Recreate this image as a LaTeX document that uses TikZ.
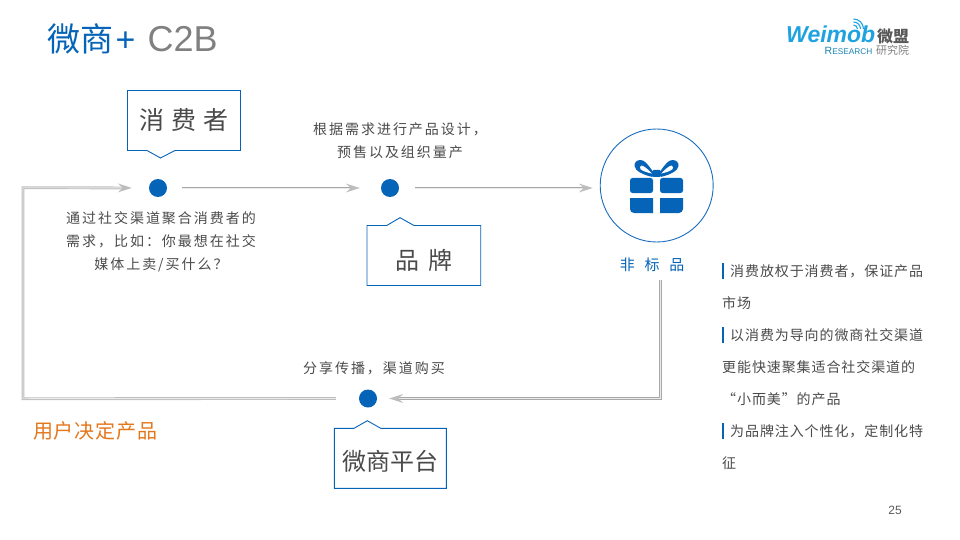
\documentclass[tikz,border=0pt]{standalone}
\usepackage{fontspec}
\usetikzlibrary{arrows.meta}
\setmainfont{Liberation Sans}
\newfontfamily\cjk{Noto Sans CJK SC}
\newcommand{\cjkls}[2]{\fontsize{#1}{#1}\selectfont\cjk\addfontfeature{LetterSpace=#2}}
\definecolor{wmblue}{HTML}{0563B8}
\definecolor{wmline}{HTML}{1A6DBE}
\definecolor{wmtext}{HTML}{4A4A4A}
\definecolor{wmgray}{HTML}{A8A8A8}
\definecolor{wmlight}{HTML}{BDBDBD}
\definecolor{wmorange}{HTML}{E4761B}
\definecolor{wmsky}{HTML}{1FA3E0}
\tikzset{
  dotnode/.style={circle,fill=wmblue,minimum size=18pt,inner sep=0pt},
  flow/.style n args={2}{draw=#1,line width=2.8pt,line join=miter,
    -{Stealth[length=14pt,width=9pt,inset=5pt,color=wmlight,fill=wmlight,line width=0pt]},
    shorten >=#2pt,
    postaction={draw=white!92!black,line width=.9pt,-,shorten >=#2pt+10pt}},
  callout/.style={draw=wmblue,line width=.9pt,fill=white,line join=miter},
  bodytxt/.style={text=wmtext,align=center,inner sep=0pt,font=\cjkls{14}{14}},
  sidetxt/.style={text=wmtext,anchor=west,inner sep=0pt,font=\cjkls{14}{6.5}},
  boxtxt/.style={text=wmtext,inner sep=0pt},
  sidebar/.style={fill=wmblue,draw=none},
}
\begin{document}
\begin{tikzpicture}[x=1pt,y=-1pt]
\useasboundingbox (0,0) rectangle (960,540);
% title
\node[anchor=base west,inner sep=0pt,text=wmblue] (ttl) at (47,52) {\fontsize{33}{33}\selectfont\cjk 微商};
\node[anchor=base west,inner sep=0pt,text=wmblue] (plus) at (115.5,52) {\fontsize{34}{34}\selectfont +};
\node[anchor=base west,inner sep=0pt,text=black!50] (c2b) at (147.5,52) {\fontsize{36}{36}\selectfont C2B};
% logo
\node[anchor=base west,inner sep=0pt,text=wmsky] (lg1) at (786,42.5) {\fontsize{23}{23}\selectfont\bfseries\itshape Weimob};
\node[anchor=base west,inner sep=0pt,text=black!65] (lg2) at (877,42.5) {\fontsize{16}{16}\selectfont\cjk\bfseries 微盟};
\node[anchor=base west,inner sep=0pt,text=wmsky!80!black] (lg3) at (824.5,55) {\fontsize{10.5}{10.5}\selectfont R\fontsize{8.3}{8.3}\selectfont ESEARCH};
\node[anchor=base west,inner sep=0pt,text=black!50] (lg4) at (876,55) {\fontsize{11}{11}\selectfont\cjk 研究院};
\draw[wmsky,line width=1.1pt] (853.5,25) arc[start angle=270,end angle=360,radius=4];
\draw[wmsky,line width=1.1pt] (853.5,22) arc[start angle=270,end angle=360,radius=7];
\draw[wmsky,line width=1.1pt] (853.5,19) arc[start angle=270,end angle=360,radius=10];
% dots
\node[dotnode] (d1) at (158,188) {};
\node[dotnode] (d2) at (390,188) {};
\node[dotnode] (d3) at (368,398.5) {};
% gift
\node[circle,draw=wmline,line width=.9pt,minimum size=113pt,inner sep=0pt] (gift) at (656.7,185.5) {};
\fill[wmblue,rounded corners=2.5pt] (630,193) -- (630,178) -- (653,178) -- (653,193) -- cycle;
\fill[wmblue,rounded corners=2.5pt] (660,193) -- (660,178) -- (683,178) -- (683,193) -- cycle;
\fill[wmblue] (653,198) -- (653,213) -- (634,213) arc[start angle=90,end angle=180,radius=4] -- (630,198) -- cycle;
\fill[wmblue] (660,198) -- (660,213) -- (679,213) arc[start angle=90,end angle=0,radius=4] -- (683,198) -- cycle;
\foreach \mir in {1,-1}{
  \begin{scope}[shift={(656.5,0)},xscale=\mir]
    \fill[wmblue] (-4,171) .. controls (-9,164) and (-12,160) .. (-16,160)
       .. controls (-20,160) and (-22.5,163) .. (-22,166)
       .. controls (-21.5,171) and (-13,175) .. (-4,177) -- cycle;
    \fill[white] (-15,165.5) .. controls (-12,166) and (-8,170) .. (-4.5,173.6)
       .. controls (-9,172.5) and (-13,171.5) .. (-16,169.2)
       .. controls (-17,168) and (-16.5,166) .. (-15,165.5) -- cycle;
  \end{scope}
}
\fill[wmblue,rounded corners=1.5pt] (652,170) rectangle (661,177);
\node[inner sep=0pt,text=wmblue] (lab) at (652,264.5) {\cjkls{15}{65}非标品};
% callouts
\draw[callout] (127.5,90.5) -- (240.5,90.5) -- (240.5,150.5) -- (175,150.5) -- (160.5,158) -- (147,150.5) -- (127.5,150.5) -- cycle;
\node[boxtxt] (bx1) at (183.5,120) {\cjkls{25}{28}消费者};
\draw[callout] (367,225.5) -- (386.7,225.5) -- (400,217.7) -- (414,225.5) -- (480.7,225.5) -- (480.7,285.5) -- (367,285.5) -- cycle;
\node[boxtxt] (bx2) at (424,260) {\cjkls{24}{37}品牌};
\draw[callout] (334.3,428.3) -- (354,428.3) -- (367.3,420.7) -- (380.7,428.3) -- (446.3,428.3) -- (446.3,488.3) -- (334.3,488.3) -- cycle;
\node[boxtxt] (bx3) at (390,461) {\cjkls{24}{0}微商平台};
% captions
\node[bodytxt] (cap1) at (161,243) {\begin{tabular}{@{}c@{}}通过社交渠道聚合消费者的\\[7pt]需求，比如：你最想在社交\\[7pt]媒体上卖/买什么？\end{tabular}};
\node[bodytxt] (cap2) at (400,142) {\begin{tabular}{@{}c@{}}根据需求进行产品设计，\\[7pt]预售以及组织量产\end{tabular}};
\node[bodytxt] (cap3) at (374,368.5) {分享传播，渠道购买};
\node[anchor=base west,inner sep=0pt,text=wmorange] (orng) at (33,438) {\cjkls{20}{4}用户决定产品};
% connectors
\coordinate (tdown) at (660.7,280);
\coordinate (bl) at (23,398.7);
\coordinate (tl) at (23,187.7);
\draw[flow={wmgray}{21},shorten <=15pt] (d1) -- (d2);
\draw[flow={wmgray}{7},shorten <=16pt] (d2) -- (d2 -| gift.west);
\draw[flow={wmgray}{12}] (tdown) |- (d3);
\draw[flow={wmlight}{17},shorten <=23pt] (d3) -- (bl) -- (tl) -- (d1);
% side text
\fill[sidebar] (722,263) rectangle (724,279);
\fill[sidebar] (722,327) rectangle (724,343);
\fill[sidebar] (722,423) rectangle (724,439);
\node[sidetxt] (s1) at (730,271.5) {消费放权于消费者，保证产品};
\node[sidetxt] (s2) at (722,303.5) {市场};
\node[sidetxt] (s3) at (730,335.5) {以消费为导向的微商社交渠道};
\node[sidetxt] (s4) at (722,367.5) {更能快速聚集适合社交渠道的};
\node[sidetxt] (s5) at (722,399.5) {“小而美”的产品};
\node[sidetxt] (s6) at (730,431.5) {为品牌注入个性化，定制化特};
\node[sidetxt] (s7) at (722,463.5) {征};
\node[inner sep=0pt,text=black!65] (pg) at (895,510) {\fontsize{12}{12}\selectfont 25};
\end{tikzpicture}
\end{document}
